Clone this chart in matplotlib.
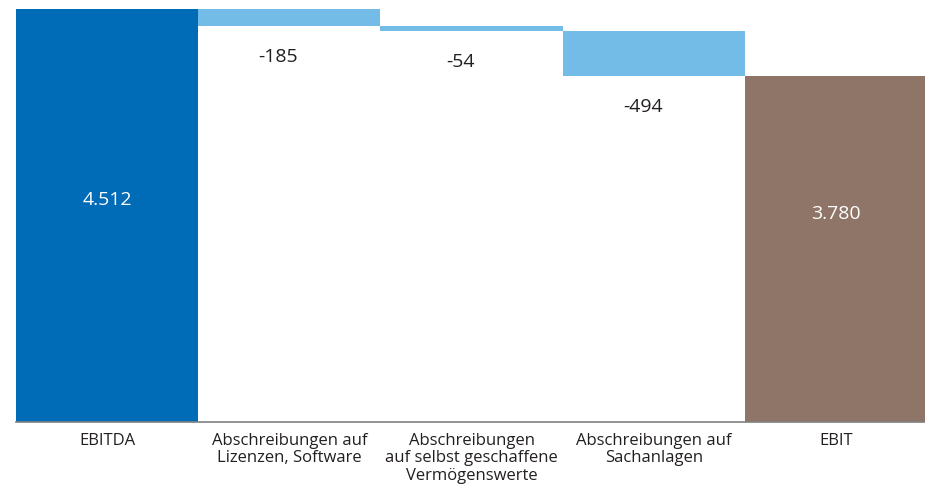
import numpy as np
import matplotlib.pyplot as plt

categories = ['EBITDA', 'Abschreibungen auf\nLizenzen, Software',
              'Abschreibungen\nauf selbst geschaffene\nVermögenswerte',
              'Abschreibungen auf\nSachanlagen', 'EBIT']
values = [4512, -185, -54, -494, 3780]
value_labels = ['4.512', '-185', '-54', '-494', '3.780']

plt.rcParams['font.family'] = ['Open Sans', 'DejaVu Sans']

fig = plt.figure(figsize=(9.25, 4.9), dpi=100)
ax = fig.add_axes([16 / 925, 1 - 422 / 490, (927 - 16) / 925, 422 / 490])

dark = '#006bb6'
light = '#74bce8'
brown = '#8f7468'

x = np.arange(len(values))
running = values[0]
for i, v in enumerate(values):
    if i == 0:
        ax.bar(i, v, width=1.0, color=dark, linewidth=0)
        ax.text(i, v * 0.538, value_labels[i], color='white', fontsize=14,
                ha='center', va='center')
    elif i == len(values) - 1:
        ax.bar(i, v, width=1.0, color=brown, linewidth=0)
        ax.text(i, v * 0.601, value_labels[i], color='white', fontsize=14,
                ha='center', va='center')
    else:
        bottom = running + v
        ax.bar(i, -v, bottom=bottom, width=1.0, color=light, linewidth=0)
        ax.annotate(value_labels[i], (i, bottom), xytext=(-8, -22),
                    textcoords='offset points', color='#231f20', fontsize=14,
                    ha='center', va='center')
        running = bottom

ax.set_xlim(-0.5, len(values) - 0.5)
ax.set_ylim(0, 4612)
ax.set_xticks(x)
ax.set_xticklabels(categories, fontsize=12, linespacing=1.1, color='#231f20')
ax.tick_params(axis='x', length=0, pad=8)
ax.set_yticks([])
for s in ['top', 'right', 'left']:
    ax.spines[s].set_visible(False)
ax.spines['bottom'].set_color('#808080')
ax.spines['bottom'].set_linewidth(1.2)

fig.savefig('out.png', dpi=100)
